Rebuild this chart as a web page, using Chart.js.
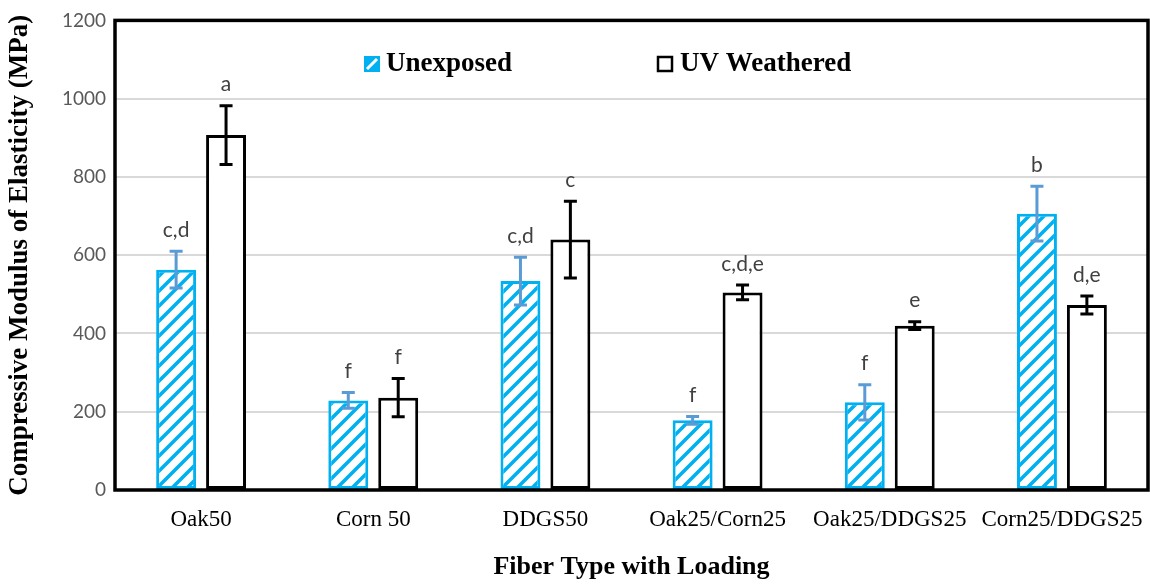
<!DOCTYPE html>
<html>
<head>
<meta charset="utf-8">
<script src="https://cdn.jsdelivr.net/npm/chart.js@4.4.1/dist/chart.umd.min.js"></script>
<style>
  html, body { margin:0; padding:0; background:#fff; }
  #wrap { width:1150px; height:584px; }
</style>
</head>
<body>
<div id="wrap"><canvas id="chart" width="1150" height="584"></canvas></div>
<script>
// fiber types and measured moduli (MPa)
const categories = ["Oak50", "Corn 50", "DDGS50", "Oak25/Corn25", "Oak25/DDGS25", "Corn25/DDGS25"];
const unexposed = [563, 229, 534, 178, 224, 706];
const unexposedErr = [47, 20, 61, 10, 45, 70];
const weathered = [907, 236, 640, 505, 420, 473];
const weatheredErr = [75, 49, 98, 19, 10, 23];
// significance groups
const unexposedLetters = ["c,d", "f", "c,d", "f", "f", "b"];
const weatheredLetters = ["a", "f", "c", "c,d,e", "e", "d,e"];
const yTicks = [0, 200, 400, 600, 800, 1000, 1200];

const BLUE = "#00B0F0";
const SERIF = "'Liberation Serif', 'Times New Roman', serif";
const SANS = "Lato, 'Open Sans', sans-serif";

// diagonal hatch for the unexposed bars
function hatch(){
  const s = 15;
  const c = document.createElement("canvas");
  c.width = s; c.height = s;
  const g = c.getContext("2d");
  g.fillStyle = "#fff";
  g.fillRect(0, 0, s, s);
  g.strokeStyle = BLUE;
  g.lineWidth = 3.6;
  g.beginPath();
  g.moveTo(-2, s + 2); g.lineTo(s + 2, -2);
  g.moveTo(-4, 4); g.lineTo(4, -4);
  g.moveTo(s - 4, s + 4); g.lineTo(s + 4, s - 4);
  g.stroke();
  return g.createPattern(c, "repeat");
}
const ctx = document.getElementById("chart").getContext("2d");
const pattern = hatch();

// error bars + letters above them
const errorBars = {
  id: "errorBars",
  afterDatasetsDraw(chart){
    const c = chart.ctx, y = chart.scales.y;
    chart.data.datasets.forEach((ds, i) => {
      const meta = chart.getDatasetMeta(i);
      meta.data.forEach((bar, j) => {
        const v = ds.data[j], e = ds.err[j];
        const top = y.getPixelForValue(v + e), bot = y.getPixelForValue(v - e);
        c.save();
        c.strokeStyle = ds.errColor;
        c.lineWidth = 3;
        c.beginPath();
        c.moveTo(bar.x, top); c.lineTo(bar.x, bot);
        c.moveTo(bar.x - 6.5, top); c.lineTo(bar.x + 6.5, top);
        c.moveTo(bar.x - 6.5, bot); c.lineTo(bar.x + 6.5, bot);
        c.stroke();
        c.fillStyle = "#404040";
        c.font = "21px " + SANS;
        c.textAlign = "center";
        c.textBaseline = "middle";
        c.fillText(ds.letters[j], bar.x, top - 21);
        c.restore();
      });
    });
  }
};

// plot frame and the legend inside it
const frame = {
  id: "frame",
  afterDraw(chart){
    const c = chart.ctx, a = chart.chartArea;
    c.save();
    c.strokeStyle = "#000";
    c.lineWidth = 3.5;
    c.strokeRect(a.left, a.top, a.right - a.left, a.bottom - a.top);

    c.font = "bold 27px " + SERIF;
    c.fillStyle = "#000";
    c.textBaseline = "middle";
    c.textAlign = "left";
    // unexposed swatch
    let x = 364, y = 56;
    c.fillStyle = BLUE;
    c.fillRect(x, y, 16, 16);
    c.strokeStyle = "#fff";
    c.lineWidth = 3;
    c.beginPath(); c.moveTo(x + 3, y + 13); c.lineTo(x + 13, y + 3); c.stroke();
    c.fillStyle = "#000";
    c.fillText(chart.data.datasets[0].label, x + 22, y + 8);
    // weathered swatch
    x = 658;
    c.strokeStyle = "#000";
    c.lineWidth = 2.5;
    c.strokeRect(x, y + 1, 14, 14);
    c.fillText(chart.data.datasets[1].label, x + 22, y + 8);
    c.restore();
  }
};

new Chart(ctx, {
  type: "bar",
  data: {
    labels: categories,
    datasets: [
      { label: "Unexposed", data: unexposed, err: unexposedErr, letters: unexposedLetters,
        errColor: "#5B9BD5", backgroundColor: pattern, borderColor: BLUE, borderWidth: 3, borderSkipped: false },
      { label: "UV Weathered", data: weathered, err: weatheredErr, letters: weatheredLetters,
        errColor: "#000", backgroundColor: "#fff", borderColor: "#000", borderWidth: 3, borderSkipped: false }
    ]
  },
  options: {
    responsive: false,
    animation: false,
    devicePixelRatio: 1,
    categoryPercentage: 0.58,
    barPercentage: 0.8,
    layout: { padding: { top: 16, right: 2, left: 0, bottom: 0 } },
    plugins: { legend: { display: false }, tooltip: { enabled: false } },
    scales: {
      x: {
        grid: { display: false, drawTicks: false },
        border: { display: false },
        ticks: { color: "#000", font: { family: SERIF, size: 23 }, padding: 16, maxRotation: 0, autoSkip: false },
        title: { display: true, text: "Fiber Type with Loading", color: "#000",
                 font: { family: SERIF, size: 26, weight: "bold" }, padding: { top: 0, bottom: 1.5 } },
        afterFit(s){ s.height = 94; s.paddingLeft = 0; s.paddingRight = 0; }
      },
      y: {
        min: 0, max: 1200,
        afterBuildTicks(s){ s.ticks = yTicks.map(v => ({ value: v })); },
        grid: { color: "#D9D9D9", lineWidth: 2, drawTicks: false },
        border: { display: false },
        ticks: { color: "#595959", font: { family: SANS, size: 19 }, padding: 9, callback: v => String(v) },
        title: { display: true, text: "Compressive Modulus of Elasticity (MPa)", color: "#000",
                 font: { family: SERIF, size: 27, weight: "bold" }, padding: { top: 4, bottom: 0 } },
        afterFit(s){ s.width = 115; }
      }
    }
  },
  plugins: [errorBars, frame]
});
</script>
</body>
</html>
